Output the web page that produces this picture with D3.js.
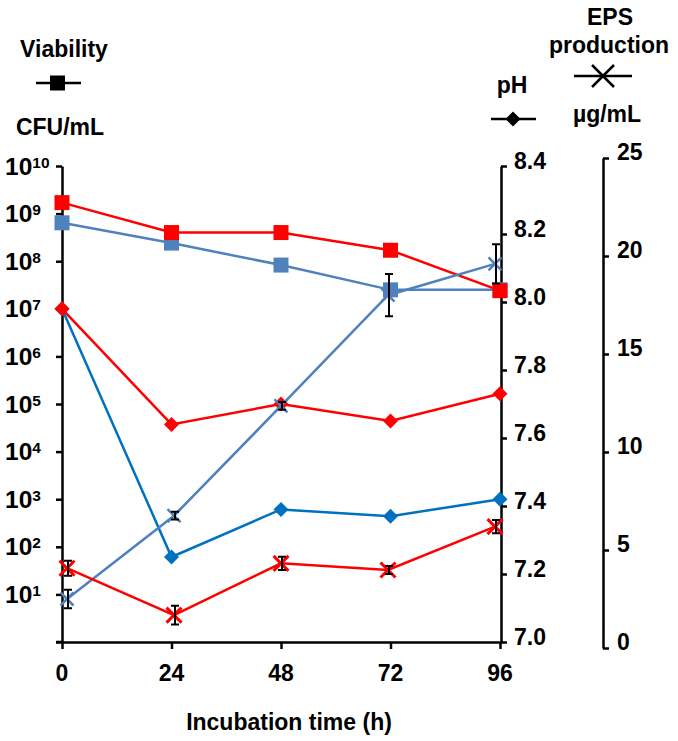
<!DOCTYPE html>
<html><head><meta charset="utf-8">
<script src="https://cdn.jsdelivr.net/npm/d3@7"></script>
<style>body{margin:0;background:#fff}svg{display:block}text{font-family:"Liberation Sans",Arial,sans-serif;font-weight:bold;fill:#000}</style>
</head><body><div id="chart"></div>
<script>
// ---- data ----
const times = [0, 24, 48, 72, 96];
const viabilityRed = [1.7e9, 4.0e8, 4.0e8, 1.7e8, 2.4e7];
const viabilityBlue = [6.4e8, 2.4e8, 8.3e7, 2.5e7, 2.5e7];
const phRed = [7.98, 7.64, 7.70, 7.65, 7.73];
const phBlue = [7.98, 7.25, 7.39, 7.37, 7.42];
const epsBlue = [2.5, 6.75, 12.35, 18.0, 19.6];
const epsBlueErr = [0.47, 0.2, 0.2, 1.08, 1.0];
const epsRed = [4.07, 1.68, 4.32, 3.98, 6.19];
const epsRedErr = [0.38, 0.48, 0.34, 0.2, 0.34];
const logTicks = [1,2,3,4,5,6,7,8,9,10];
const phTicks = [7.0, 7.2, 7.4, 7.6, 7.8, 8.0, 8.2, 8.4];
const epsTicks = [0, 5, 10, 15, 20, 25];

const RED = "#FF0000", STEEL = "#4F81BD", BLUE = "#0070C0";

const svg = d3.select("#chart").append("svg").attr("width", 678).attr("height", 741);

const xP = d3.scaleLinear().domain([0, 96]).range([62, 500]);
const xS = d3.scaleLinear().domain([0, 96]).range([67, 495]);
const yL = d3.scaleLog().domain([1, 1e10]).range([642, 166]);
const yPH = d3.scaleLinear().domain([7, 8.4]).range([642, 166]);
const yE = d3.scaleLinear().domain([0, 25]).range([648, 158]);

// ---- axes ----
const axStyle = g => { g.selectAll("path,line").attr("stroke", "#000").attr("stroke-width", 2.5); g.selectAll("text").remove(); };

svg.append("g").attr("transform", "translate(62,0)")
  .call(d3.axisLeft(yL).tickValues(logTicks.map(e => Math.pow(10, e)).concat([1])).tickSize(6).tickSizeOuter(0).tickFormat(""))
  .call(axStyle);
svg.append("g").attr("transform", "translate(0,642)")
  .call(d3.axisBottom(xP).tickValues(times).tickSize(7).tickSizeOuter(0).tickFormat(""))
  .call(axStyle);
svg.append("g").attr("transform", "translate(501,0)")
  .call(d3.axisRight(yPH).tickValues(phTicks).tickSize(6).tickSizeOuter(0).tickFormat(""))
  .call(axStyle);
svg.append("g").attr("transform", "translate(603,0)")
  .call(d3.axisRight(yE).tickValues(epsTicks).tickSize(6).tickSizeOuter(0).tickFormat(""))
  .call(axStyle);
svg.append("line").attr("x1", 56).attr("x2", 62).attr("y1", 642).attr("y2", 642).attr("stroke", "#000").attr("stroke-width", 2.5);

// left tick labels
logTicks.forEach(e => {
  const t = svg.append("text").attr("x", 5).attr("y", yL(Math.pow(10, e)) + 8.5).attr("font-size", 24.5);
  t.append("tspan").text("10");
  t.append("tspan").attr("dy", -7).attr("font-size", 15.5).text(e);
});
// pH labels
phTicks.forEach(v => svg.append("text").attr("x", 514).attr("y", yPH(v) + 3).attr("font-size", 23).text(v.toFixed(1)));
// EPS labels
epsTicks.forEach(v => svg.append("text").attr("x", 617).attr("y", yE(v) + 2).attr("font-size", 23).text(v));
// x labels
times.forEach(v => svg.append("text").attr("x", xP(v)).attr("y", 681).attr("font-size", 23)
  .attr("text-anchor", "middle").text(v));
svg.append("text").attr("x", 289).attr("y", 730).attr("font-size", 23).attr("text-anchor", "middle")
  .text("Incubation time (h)");

// ---- series ----
const line = (xs, ys, vals) => d3.line().x((d, i) => xs(times[i])).y(d => ys(d))(vals);
const drawLine = (xs, ys, vals, color) => svg.append("path").attr("d", line(xs, ys, vals)).attr("fill", "none")
  .attr("stroke", color).attr("stroke-width", 2.5);

function square(cx, cy, s, color) {
  svg.append("rect").attr("x", cx - s / 2).attr("y", cy - s / 2).attr("width", s).attr("height", s).attr("fill", color);
}
function diamond(cx, cy, r, color) {
  const p = d3.path(); p.moveTo(cx, cy - r); p.lineTo(cx + r, cy); p.lineTo(cx, cy + r); p.lineTo(cx - r, cy); p.closePath();
  svg.append("path").attr("d", p.toString()).attr("fill", color);
}
function cross(cx, cy, r, color, w) {
  const p = d3.path(); p.moveTo(cx - r, cy - r); p.lineTo(cx + r, cy + r); p.moveTo(cx - r, cy + r); p.lineTo(cx + r, cy - r);
  svg.append("path").attr("d", p.toString()).attr("stroke", color).attr("stroke-width", w).attr("fill", "none");
}
function errbar(cx, y1, y2) {
  const p = d3.path(); p.moveTo(cx, y1); p.lineTo(cx, y2); p.moveTo(cx - 4, y1); p.lineTo(cx + 4, y1); p.moveTo(cx - 4, y2); p.lineTo(cx + 4, y2);
  svg.append("path").attr("d", p.toString()).attr("stroke", "#000").attr("stroke-width", 2).attr("fill", "none");
}

// viability
drawLine(xP, yL, viabilityBlue, STEEL);
viabilityBlue.forEach((v, i) => square(xP(times[i]), yL(v), 15, STEEL));
drawLine(xP, yL, viabilityRed, RED);
viabilityRed.forEach((v, i) => square(xP(times[i]), yL(v), 15, RED));
// pH
drawLine(xP, yPH, phBlue, BLUE);
phBlue.forEach((v, i) => diamond(xP(times[i]), yPH(v), 7.5, BLUE));
drawLine(xP, yPH, phRed, RED);
phRed.forEach((v, i) => diamond(xP(times[i]), yPH(v), 7.5, RED));
// EPS
drawLine(xS, yE, epsBlue, STEEL);
epsBlue.forEach((v, i) => cross(xS(times[i]), yE(v), 6.5, STEEL, 2.5));
epsBlue.forEach((v, i) => errbar(xS(times[i]) + 1, yE(v + epsBlueErr[i]), yE(v - epsBlueErr[i])));
drawLine(xS, yE, epsRed, RED);
epsRed.forEach((v, i) => cross(xS(times[i]), yE(v), 7.5, RED, 3));
epsRed.forEach((v, i) => errbar(xS(times[i]) + 1, yE(v + epsRedErr[i]), yE(v - epsRedErr[i])));

// ---- legend ----
svg.append("text").attr("x", 64).attr("y", 57).attr("font-size", 23).attr("text-anchor", "middle").text("Viability");
svg.append("line").attr("x1", 36).attr("x2", 81).attr("y1", 83).attr("y2", 83).attr("stroke", "#000").attr("stroke-width", 2.5);
square(57.5, 83, 15, "#000");
svg.append("text").attr("x", 60).attr("y", 135).attr("font-size", 23).attr("text-anchor", "middle").text("CFU/mL");

svg.append("text").attr("x", 512).attr("y", 93).attr("font-size", 23).attr("text-anchor", "middle").text("pH");
svg.append("line").attr("x1", 491).attr("x2", 536).attr("y1", 119).attr("y2", 119).attr("stroke", "#000").attr("stroke-width", 2.5);
diamond(513, 119, 7.5, "#000");

svg.append("text").attr("x", 610).attr("y", 25).attr("font-size", 23).attr("text-anchor", "middle").text("EPS");
svg.append("text").attr("x", 609).attr("y", 53).attr("font-size", 23).attr("text-anchor", "middle").text("production");
svg.append("line").attr("x1", 574).attr("x2", 632).attr("y1", 76).attr("y2", 76).attr("stroke", "#000").attr("stroke-width", 2.5);
cross(603, 76, 11, "#000", 2.5);
svg.append("text").attr("x", 607).attr("y", 122).attr("font-size", 23).attr("text-anchor", "middle").text("µg/mL");
</script></body></html>
